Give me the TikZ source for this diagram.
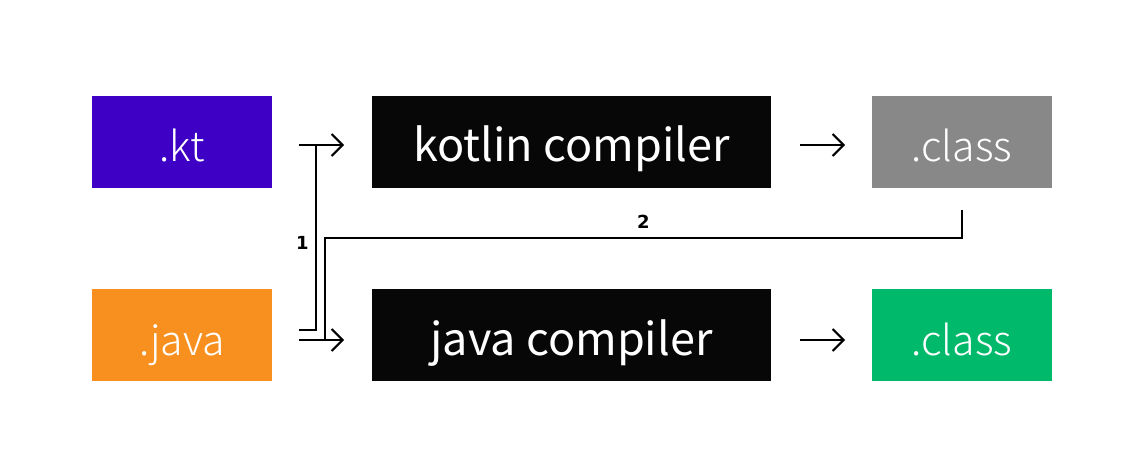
\documentclass[tikz,border=0pt]{standalone}
\usepackage{fontspec}
\setmainfont{Noto Sans CJK KR}
\newfontfamily\lightfont[UprightFont={* Light}]{Noto Sans CJK KR}
\newfontfamily\labfont{DejaVu Sans}
\usetikzlibrary{arrows.meta}
\definecolor{ktblue}{HTML}{3D00C4}
\definecolor{cmpblack}{HTML}{070707}
\definecolor{clsgray}{HTML}{888888}
\definecolor{jvorange}{HTML}{F7901E}
\definecolor{clsgreen}{HTML}{00B96B}
\begin{document}
\begin{tikzpicture}[x=1pt,y=-1pt,
  box/.style={minimum height=92pt,inner sep=0pt,text=white,text height=40pt,text depth=0pt},
  smallbox/.style={box,minimum width=180pt,font=\lightfont\fontsize{41}{41}\selectfont},
  bigbox/.style={box,minimum width=399pt,fill=cmpblack,font=\fontsize{45}{45}\selectfont},
  conn/.style={line width=2pt},
  arr/.style={conn,-{Straight Barb[length=11pt,width=22pt,line width=2pt]}},
  lab/.style={font=\labfont\bfseries\fontsize{18}{18}\selectfont}]
\useasboundingbox (0,0) rectangle (1135,470);
\fill[white] (0,0) rectangle (1135,470);
\node[smallbox,fill=ktblue] (kt) at (182,142) {.kt};
\node[bigbox] (kc) at (571.5,142) {kotlin compiler};
\node[smallbox,fill=clsgray] (kcls) at (962,142) {.class};
\node[smallbox,fill=jvorange] (jv) at (182,335) {.java};
\node[bigbox] (jc) at (571.5,335) {java compiler};
\node[smallbox,fill=clsgreen] (jcls) at (962,335) {.class};
% coordinates
\coordinate (ktout) at (299,145);
\coordinate (kcin) at (344,145);
\coordinate (kcout) at (800,145);
\coordinate (kclsin) at (845,145);
\coordinate (jvout) at (299,330);
\coordinate (jvout2) at (299,340);
\coordinate (jcin) at (344,340);
\coordinate (jcout) at (800,340);
\coordinate (jclsin) at (845,340);
\coordinate (kclsout) at (962,210);
\draw[arr] (ktout) -- (kcin);
\draw[arr] (jvout2) -- (jcin);
\draw[arr] (kcout) -- (kclsin);
\draw[arr] (jcout) -- (jclsin);
\draw[conn] (jvout) -- (316,330) -- (316,145) node[pos=0.47,left=3pt,lab] (l1) {1};
\draw[conn] (kclsout) -- (962,238) -- (325,238) node[pos=0.5,above=5pt,lab] (l2) {2} -- (325,340);
\end{tikzpicture}
\end{document}
